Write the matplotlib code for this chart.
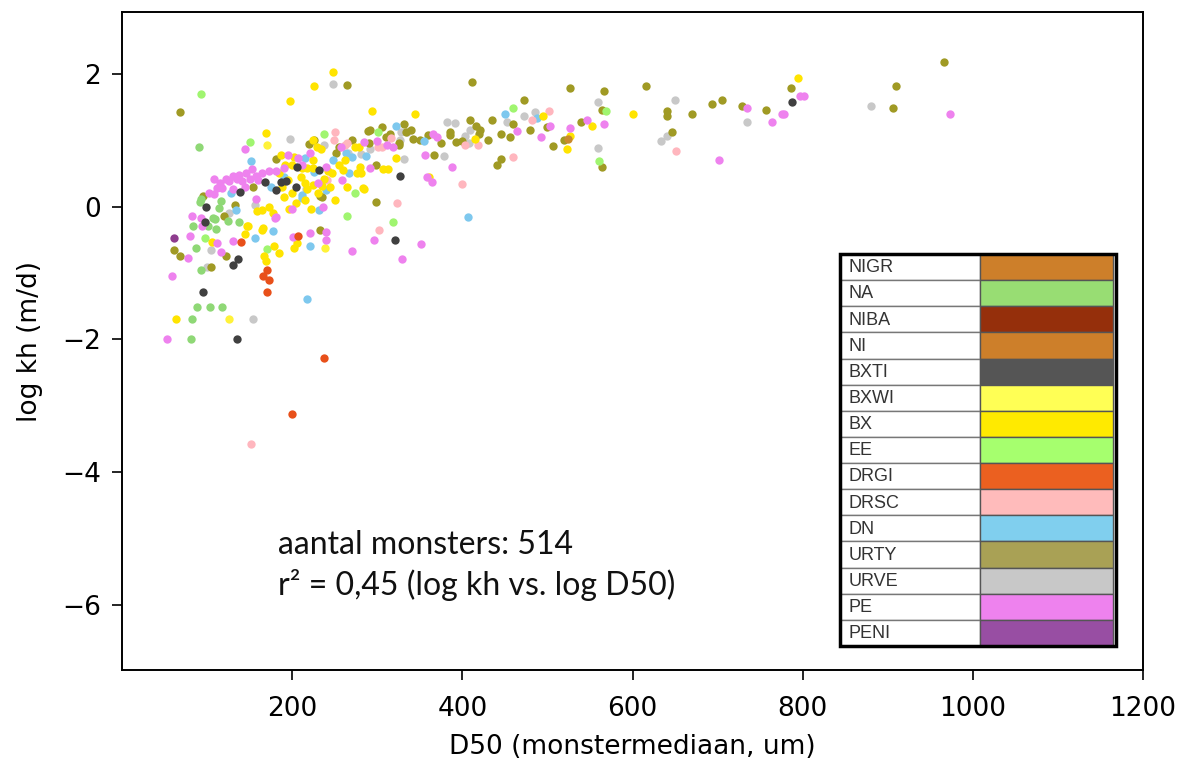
import matplotlib
matplotlib.use("Agg")
import matplotlib.pyplot as plt
from matplotlib.patches import Rectangle

# legend table (category, legend colour)
legend_names = ["NIGR", "NA", "NIBA", "NI", "BXTI", "BXWI", "BX", "EE",
                "DRGI", "DRSC", "DN", "URTY", "URVE", "PE", "PENI"]
legend_colors = ["#CD7F2A", "#98DD73", "#952F0B", "#CD7F2A", "#555555", "#FFFF55",
                 "#FFEA00", "#A6FF6E", "#EB6020", "#FFBBBB", "#80CFEE", "#A9A155",
                 "#C8C8C8", "#EE82EE", "#984EA3"]

# --- samples per lithology: D50 (um) and log kh (m/d) ---
urty_x = [68, 966, 910, 906, 786, 411, 527, 567, 616, 473, 564, 641, 641, 670, 693, 705,
          729, 757, 646, 564, 540, 506, 445, 456, 435, 446, 441, 409, 416, 421, 400, 392,
          385, 385, 367, 342, 332, 334, 326, 265, 289, 292, 306, 326, 298, 251, 220, 181,
          235, 226, 95, 120, 61, 68, 122, 105, 233, 298, 233, 133, 310, 350, 360, 375, 420,
          430, 460, 480, 500, 520, 290, 270, 255, 315, 340, 154]
urty_y = [1.42, 2.17, 1.81, 1.48, 1.78, 1.88, 1.78, 1.74, 1.82, 1.61, 1.46, 1.44, 1.37, 1.39,
          1.54, 1.61, 1.51, 1.46, 1.12, 0.60, 1.27, 0.91, 1.09, 1.05, 1.30, 0.72, 0.62, 1.30,
          1.21, 1.16, 0.98, 0.97, 1.12, 1.07, 0.77, 1.01, 1.25, 1.13, 0.95, 1.83, 1.14, 1.16,
          1.20, 0.92, 0.62, 0.80, 0.94, 0.72, 0.15, 1.00, 0.16, -0.14, -0.66, -0.74, -0.75,
          -0.91, -0.36, 0.07, 0.16, 0.03, 1.05, 1.00, 1.08, 0.95, 1.10, 1.00, 1.25, 1.15, 1.20,
          1.00, 0.95, 1.00, 0.90, 1.10, 1.15, 0.30]

urve_x = [880, 650, 560, 473, 485, 453, 559, 634, 641, 735, 382, 391, 409, 403, 408, 378,
          332, 248, 198, 328, 335, 327, 266, 281, 292, 237, 156, 126, 105, 100, 154, 216]
urve_y = [1.51, 1.60, 1.57, 1.37, 1.43, 1.27, 0.88, 0.99, 1.06, 1.27, 1.27, 1.26, 1.16, 1.06,
          0.96, 0.76, 0.71, 1.84, 1.01, 1.12, 1.13, 1.00, 0.80, 0.79, 0.87, 0.92, 0.03, -0.10,
          -0.66, -0.91, -1.69, 0.26]

pe_x = [797, 802, 778, 973, 735, 764, 776, 702, 567, 547, 526, 503, 492, 464, 388, 364, 356,
        365, 370, 318, 358, 291, 258, 257, 284, 300, 312, 195, 207, 221, 212, 144,
        108, 122, 130, 137, 146, 153, 157, 126, 141, 112, 102, 108, 118, 130, 173, 181, 190,
        135, 150, 115, 160, 165, 145, 157, 180, 82, 93, 94, 80, 112, 130, 78, 116, 59, 53,
        201, 221, 240, 240, 270, 296, 352, 329, 236, 200, 181, 240, 230]
pe_y = [1.66, 1.66, 1.40, 1.40, 1.49, 1.27, 1.40, 0.70, 1.24, 1.31, 1.18, 1.21, 1.05, 1.14,
        0.60, 0.37, 0.78, 1.10, 1.05, 0.90, 0.45, 0.58, 0.40, 0.90, 0.97, 0.99, 0.92, 0.77,
        0.73, 0.80, 0.63, 0.87, 0.41, 0.41, 0.46, 0.48, 0.51, 0.56, 0.46, 0.38, 0.38, 0.28,
        0.21, 0.19, 0.28, 0.26, 0.53, 0.53, 0.58, 0.42, 0.42, 0.35, 0.40, 0.50, 0.30, 0.11,
        -0.17, -0.14, -0.17, -0.29, -0.45, -0.55, -0.52, -0.77, -0.69, -1.04, -1.99, -0.46,
        -0.40, -0.38, -0.51, -0.67, -0.51, -0.56, -0.79, 0.00, -0.04, -0.16, 0.60, 0.35]

bx_x = [795, 601, 552, 526, 523, 495, 415, 361, 344, 248, 226, 197, 294, 322, 307, 313, 283,
        280, 276, 281, 262, 274, 279, 224, 229, 234, 187, 202, 211, 218, 225, 242, 247, 238,
        235, 224, 218, 169, 173, 165, 147, 159, 222, 177, 196, 206, 202, 166, 164, 179, 184,
        167, 169, 144, 148, 106, 63, 284, 210, 195, 200, 190, 205, 215, 185, 192, 225, 230,
        245, 255, 260, 265, 250, 215, 200, 188]
bx_y = [1.94, 1.40, 1.22, 1.06, 0.87, 1.36, 1.01, 0.45, 1.39, 2.03, 1.81, 1.59, 1.44, 0.73,
        0.56, 0.56, 0.28, 0.60, 0.51, 0.51, 0.70, 0.89, 0.90, 1.00, 0.90, 0.86, 0.78, 0.74,
        0.58, 0.58, 0.58, 0.53, 0.51, 0.42, 0.31, 0.33, 0.26, 1.11, 0.00, -0.05, -0.30, -0.07,
        -0.03, -0.10, -0.03, -0.55, -0.62, -0.33, -0.35, -0.59, -0.70, -0.75, -0.82, -0.42,
        -0.30, -0.54, -1.69, 0.27, 0.45, 0.40, 0.20, 0.15, 0.05, 0.10, 0.50, 0.62, 0.70, 0.20,
        0.30, 0.62, 0.55, 0.30, 0.10, 0.35, 0.62, 0.30]

bxwi_x = [239, 170, 126]
bxwi_y = [-0.62, 0.92, -1.69]

dn_x = [450, 488, 407, 355, 322, 248, 267, 270, 215, 226, 212, 152, 134, 128, 178, 156, 221,
        218, 231, 212, 263, 190, 175, 240, 287]
dn_y = [1.40, 1.34, -0.15, 0.99, 1.22, 0.70, 0.51, 0.75, 0.73, 0.52, 0.18, 0.68, -0.05, 0.20,
        -0.37, -0.48, -0.60, -1.39, -0.05, 0.13, 0.81, 0.45, 0.30, 0.25, 0.76]

ee_x = [569, 459, 561, 237, 301, 274, 93, 150, 264, 319, 170, 98]
ee_y = [1.44, 1.48, 0.69, 1.09, 1.13, 0.20, 1.69, 0.97, -0.14, -0.23, -0.64, -0.48]

na_x = [91, 93, 114, 116, 83, 107, 138, 109, 125, 87, 93, 88, 103, 118, 82, 81, 110, 101, 92]
na_y = [0.90, 0.11, -0.02, 0.08, -0.30, -0.18, -0.24, -0.19, -0.22, -0.62, -0.95, -1.52,
        -1.52, -1.52, -1.69, -1.99, -0.34, -0.29, 0.07]

bxti_x = [788, 327, 321, 206, 187, 181, 204, 231, 139, 168, 193, 99, 98, 136, 131, 95, 135]
bxti_y = [1.57, 0.46, -0.51, 0.60, 0.37, 0.25, 0.29, 0.55, 0.22, 0.37, 0.38, 0.00, -0.24,
          -0.79, -0.88, -1.29, -2.00]

drgi_x = [200, 237, 207, 140, 170, 166, 173, 171]
drgi_y = [-3.13, -2.28, -0.45, -0.53, -0.96, -1.04, -1.10, -1.29]

drsc_x = [152, 302, 323, 651, 460, 400, 502, 482, 403, 418, 250, 249, 265, 306, 316, 241,
          262, 301]
drsc_y = [-3.58, -0.36, 0.06, 0.83, 0.75, 0.34, 1.44, 1.30, 0.92, 0.92, 1.13, 1.00, 0.95,
          0.90, 1.03, 0.40, 0.93, 0.89]

peni_x = [61]
peni_y = [-0.48]

ni_x = [524]
ni_y = [1.01]

groups = [
    (urve_x, urve_y, "#C8C8C8"),
    (urty_x, urty_y, "#A09A24"),
    (na_x, na_y, "#8FD876"),
    (ee_x, ee_y, "#A0F570"),
    (dn_x, dn_y, "#7EC8EE"),
    (drsc_x, drsc_y, "#FFB6BE"),
    (bx_x, bx_y, "#FFE400"),
    (bxwi_x, bxwi_y, "#FFF23A"),
    (pe_x, pe_y, "#EE82EE"),
    (bxti_x, bxti_y, "#404040"),
    (drgi_x, drgi_y, "#E8501A"),
    (peni_x, peni_y, "#8E3C8E"),
    (ni_x, ni_y, "#C98A2E"),
]

fig = plt.figure(figsize=(11.97, 7.65), dpi=100)
ax = fig.add_axes([122 / 1197, 1 - 670 / 765, (1143 - 122) / 1197, (670 - 12) / 765])

for gx, gy, col in groups:
    ax.scatter(gx, gy, s=36, color=col, linewidths=0, zorder=2)

ax.set_xlim(0, 1200)
ax.set_ylim(-6.98, 2.93)
ax.set_xticks([200, 400, 600, 800, 1000, 1200])
ax.set_yticks([-6, -4, -2, 0, 2])
ax.tick_params(labelsize=19, length=7, width=1.2)
ax.tick_params(axis="x", pad=12)
ax.tick_params(axis="y", pad=8)
for sp in ax.spines.values():
    sp.set_linewidth(1.4)
ax.set_xlabel("D50 (monstermediaan, um)", fontsize=19, labelpad=8)
ax.set_ylabel("log kh (m/d)", fontsize=19, labelpad=14)

ax.text(278 / 1197, 1 - 545 / 765, "aantal monsters: 514", transform=fig.transFigure,
        fontsize=23, family=["Lato", "DejaVu Sans"], va="center", color="#111111")
ax.text(278 / 1197, 1 - 585 / 765, "r² = 0,45 (log kh vs. log D50)", transform=fig.transFigure,
        fontsize=23, family=["Lato", "DejaVu Sans"], va="center", color="#111111")

# legend drawn as a small table
lax = fig.add_axes([840 / 1197, 1 - 646 / 765, 276 / 1197, 392 / 765])
lax.set_xlim(0, 1)
lax.set_ylim(0, len(legend_names))
lax.axis("off")
split = 140 / 276
for i, (name, col) in enumerate(zip(legend_names, legend_colors)):
    yb = len(legend_names) - 1 - i
    lax.add_patch(Rectangle((0, yb), split, 1, facecolor="white", edgecolor="#777777", lw=1))
    lax.add_patch(Rectangle((split, yb), 1 - split - 0.01, 1, facecolor=col,
                            edgecolor="#555555", lw=1))
    lax.text(0.03, yb + 0.47, name, fontsize=13, family="Liberation Sans", color="#333333",
             va="center", ha="left")
lax.add_patch(Rectangle((0, 0), 1, len(legend_names), fill=False, edgecolor="black", lw=2.5,
                        clip_on=False))

fig.savefig("out.png", dpi=100)
